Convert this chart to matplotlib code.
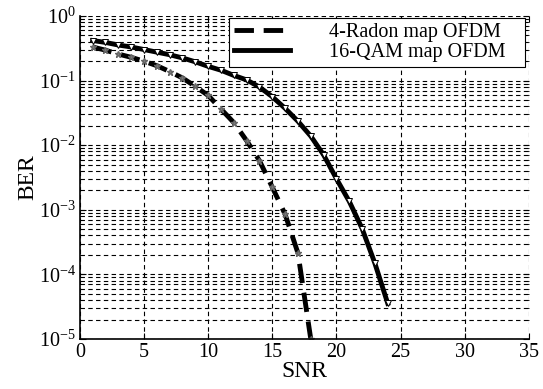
import numpy as np
import matplotlib
matplotlib.use('Agg')
from matplotlib import pyplot as plt
from matplotlib.ticker import LogLocator, MultipleLocator, NullFormatter

plt.rcParams['font.family'] = ['Liberation Serif', 'DejaVu Serif']
plt.rcParams['mathtext.fontset'] = 'stix'

# SNR points (dB)
snr_radon = np.arange(1, 19)
snr_qam = np.arange(1, 25)

# log10(BER)
log_ber_radon = [-0.48, -0.53, -0.59, -0.64, -0.70, -0.77, -0.86, -0.96, -1.09,
                 -1.23, -1.44, -1.65, -1.93, -2.24, -2.65, -3.07, -3.67, -5.0]
log_ber_qam = [-0.38, -0.41, -0.45, -0.48, -0.52, -0.56, -0.60, -0.65, -0.71,
               -0.78, -0.84, -0.92, -0.99, -1.10, -1.25, -1.43, -1.63, -1.86,
               -2.15, -2.52, -2.87, -3.29, -3.83, -4.45]

ber_radon = 10.0 ** np.array(log_ber_radon)
ber_qam = 10.0 ** np.array(log_ber_qam)

fig = plt.figure(figsize=(5.43, 3.89), dpi=100)
ax = fig.add_axes([0.147, 0.1285, 0.827, 0.8305])

ax.semilogy(snr_radon, ber_radon, 'k', ls=(0, (4, 2)), lw=3.5,
            label='4-Radon map OFDM')
ax.semilogy(snr_qam, ber_qam, 'k-', lw=3.5, label='16-QAM map OFDM')
ax.semilogy(snr_radon, ber_radon, ls='none', marker='*', ms=5,
            color='0.5', mec='0.4')
ax.semilogy(snr_qam, ber_qam, ls='none', marker='v', ms=5,
            mfc='white', mec='k', mew=0.7)

ax.set_xlim(0, 35)
ax.set_ylim(1e-5, 1)
ax.xaxis.set_major_locator(MultipleLocator(5))
ax.yaxis.set_major_locator(LogLocator(base=10, numticks=10))
ax.yaxis.set_minor_locator(LogLocator(base=10, subs=np.arange(2, 10), numticks=20))
ax.yaxis.set_minor_formatter(NullFormatter())

ax.grid(True, which='major', ls=(0, (4, 3)), color='k', lw=0.8)
ax.grid(True, which='minor', axis='y', ls=(0, (4, 3)), color='k', lw=0.8)

for s in ['top', 'right']:
    ax.spines[s].set_visible(False)
ax.spines['left'].set_linewidth(1.2)
ax.spines['bottom'].set_linewidth(1.2)
ax.tick_params(which='both', direction='in', top=True, right=True,
               labelsize=14.5)
ax.tick_params(which='major', length=4, pad=3)
ax.tick_params(which='minor', length=2)

ax.set_xlabel('SNR', fontsize=17, labelpad=-1)
ax.set_ylabel('BER', fontsize=17, labelpad=0)

leg = ax.legend(loc='upper left', bbox_to_anchor=(0.332, 0.836, 0.659, 0.158),
                mode='expand', fontsize=14.5, handlelength=2.8,
                fancybox=False, framealpha=1, edgecolor='k',
                borderaxespad=0, handletextpad=1.9, labelspacing=0.05,
                borderpad=0.25)
leg.get_frame().set_linewidth(0.8)

fig.savefig('out.png', dpi=100)
